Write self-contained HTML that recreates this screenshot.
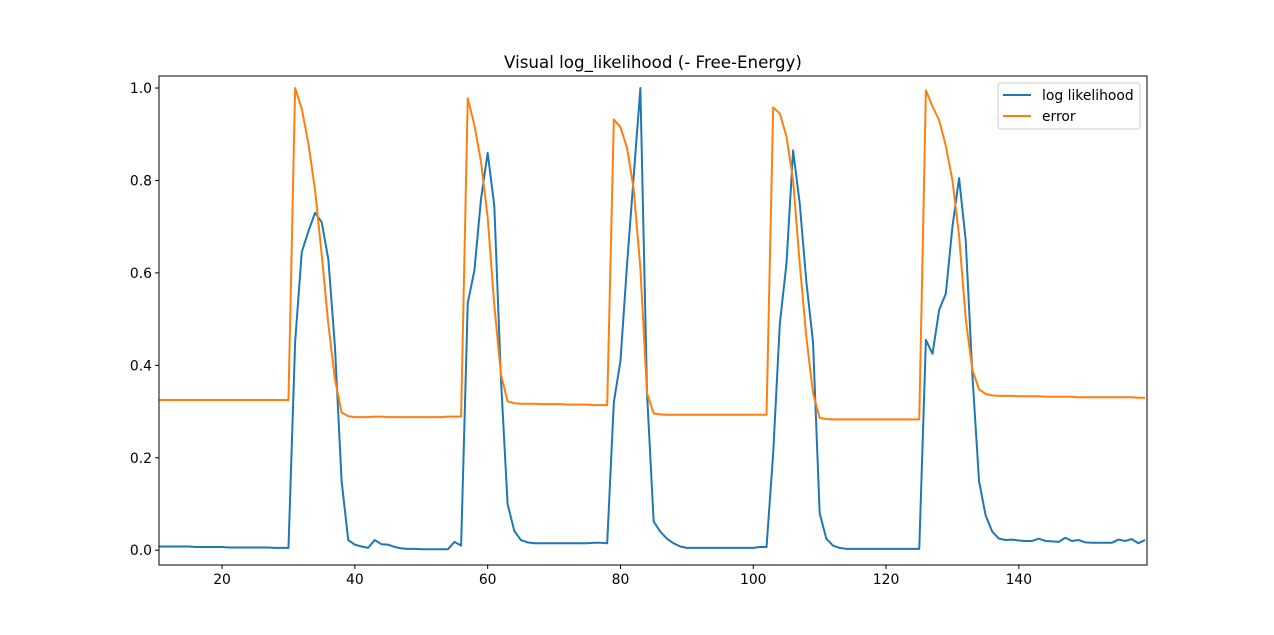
<!DOCTYPE html>
<html><head><meta charset="utf-8"><style>
body{margin:0;background:#fff}
svg{display:block;font-family:"DejaVu Sans","Liberation Sans",sans-serif}
</style></head><body>
<svg id="chart" width="1274" height="635" viewBox="0 0 1274 635" xmlns="http://www.w3.org/2000/svg">
<rect width="1274" height="635" fill="#fff"/>
<defs><clipPath id="clip"><rect x="159" y="76" width="988" height="489"/></clipPath></defs>
<text x="653" y="68" text-anchor="middle" font-size="16.7">Visual log_likelihood (- Free-Energy)</text>
<g id="grid"></g>
<g id="series" clip-path="url(#clip)"></g>
<rect x="159" y="76" width="988" height="489" fill="none" stroke="#000" stroke-width="1"/>
<g id="axes"></g>
<g>
<rect x="998" y="83" width="142" height="46" rx="3" fill="#fff" stroke="#ccc" fill-opacity="0.8"/>
<line x1="1003" y1="95" x2="1031" y2="95" stroke="#1f77b4" stroke-width="2"/>
<text x="1042" y="100" font-size="13.9">log likelihood</text>
<line x1="1003" y1="116" x2="1031" y2="116" stroke="#ff7f0e" stroke-width="2"/>
<text x="1042" y="121" font-size="13.9">error</text>
</g>
</svg>
<script>
const xStart = 10;
const logLikelihood = [
0.008,0.008,0.008,0.008,0.008,0.008,0.007,0.007,0.007,0.007,
0.007,0.006,0.006,0.006,0.006,0.006,0.006,0.006,0.005,0.005,
0.005,0.45,0.645,0.69,0.73,0.71,0.63,0.44,0.15,0.022,
0.012,0.008,0.005,0.022,0.013,0.012,0.007,0.004,0.003,0.003,
0.002,0.002,0.002,0.002,0.002,0.018,0.01,0.535,0.605,0.76,
0.86,0.745,0.37,0.10,0.042,0.022,0.017,0.015,0.015,0.015,
0.015,0.015,0.015,0.015,0.015,0.015,0.016,0.016,0.015,0.32,
0.41,0.62,0.81,1.0,0.34,0.062,0.04,0.025,0.015,0.008,
0.005,0.005,0.005,0.005,0.005,0.005,0.005,0.005,0.005,0.005,
0.005,0.007,0.007,0.21,0.49,0.62,0.865,0.75,0.58,0.45,
0.08,0.025,0.01,0.005,0.003,0.003,0.003,0.003,0.003,0.003,
0.003,0.003,0.003,0.003,0.003,0.003,0.455,0.425,0.52,0.555,
0.70,0.805,0.67,0.38,0.15,0.075,0.04,0.025,0.022,0.023,
0.021,0.02,0.02,0.025,0.02,0.019,0.018,0.027,0.02,0.022,
0.017,0.016,0.016,0.016,0.016,0.023,0.02,0.024,0.015,0.022];
const errorSeries = [
0.325,0.325,0.325,0.325,0.325,0.325,0.325,0.325,0.325,0.325,
0.325,0.325,0.325,0.325,0.325,0.325,0.325,0.325,0.325,0.325,
0.325,1.0,0.955,0.88,0.78,0.64,0.49,0.37,0.298,0.29,
0.288,0.288,0.288,0.289,0.289,0.288,0.288,0.288,0.288,0.288,
0.288,0.288,0.288,0.288,0.289,0.289,0.289,0.978,0.92,0.84,
0.72,0.53,0.38,0.322,0.318,0.317,0.317,0.317,0.316,0.316,
0.316,0.316,0.315,0.315,0.315,0.315,0.314,0.314,0.314,0.932,
0.915,0.87,0.78,0.61,0.34,0.296,0.294,0.293,0.293,0.293,
0.293,0.293,0.293,0.293,0.293,0.293,0.293,0.293,0.293,0.293,
0.293,0.293,0.293,0.958,0.945,0.895,0.80,0.62,0.46,0.34,
0.286,0.284,0.283,0.283,0.283,0.283,0.283,0.283,0.283,0.283,
0.283,0.283,0.283,0.283,0.283,0.283,0.995,0.96,0.93,0.875,
0.80,0.68,0.50,0.39,0.348,0.338,0.335,0.334,0.334,0.334,
0.333,0.333,0.333,0.333,0.332,0.332,0.332,0.332,0.332,0.331,
0.331,0.331,0.331,0.331,0.331,0.331,0.331,0.331,0.330,0.330];
const xTicks = [20,40,60,80,100,120,140];
const yTicks = [0.0,0.2,0.4,0.6,0.8,1.0];

const X0=159,X1=1147,Y0=565,Y1=76;
const xMin=10.5,xMax=159.3,yMin=-0.032,yMax=1.026;
const xs=v=>X0+(v-xMin)/(xMax-xMin)*(X1-X0);
const ys=v=>Y0-(v-yMin)/(yMax-yMin)*(Y0-Y1);
const NS="http://www.w3.org/2000/svg";
const series=document.getElementById('series');
const axes=document.getElementById('axes');
function line(vals,color,name){
  const p=document.createElementNS(NS,'polyline');
  
  
  p.setAttribute('points',vals.map((v,i)=>xs(xStart+i).toFixed(2)+','+ys(v).toFixed(2)).join(' '));
  p.setAttribute('fill','none');p.setAttribute('stroke',color);p.setAttribute('stroke-width','2');
  p.setAttribute('stroke-linejoin','round');
  series.appendChild(p);
}
line(logLikelihood,'#1f77b4','log-likelihood-line');
line(errorSeries,'#ff7f0e','error-line');
xTicks.forEach(t=>{
  const x=xs(t);
  const l=document.createElementNS(NS,'line');
  
  
  l.setAttribute('x1',x);l.setAttribute('x2',x);l.setAttribute('y1',Y0);l.setAttribute('y2',Y0+4);l.setAttribute('stroke','#000');
  axes.appendChild(l);
  const tx=document.createElementNS(NS,'text');
  
  
  tx.setAttribute('x',x);tx.setAttribute('y',Y0+19);tx.setAttribute('text-anchor','middle');tx.setAttribute('font-size','13.9');
  tx.textContent=t;axes.appendChild(tx);
});
yTicks.forEach(t=>{
  const y=ys(t);
  const l=document.createElementNS(NS,'line');
  
  
  l.setAttribute('x1',X0-4);l.setAttribute('x2',X0);l.setAttribute('y1',y);l.setAttribute('y2',y);l.setAttribute('stroke','#000');
  axes.appendChild(l);
  const tx=document.createElementNS(NS,'text');
  
  
  tx.setAttribute('x',X0-7);tx.setAttribute('y',y+5);tx.setAttribute('text-anchor','end');tx.setAttribute('font-size','13.9');
  tx.textContent=t.toFixed(1);axes.appendChild(tx);
});
</script>
</body></html>
